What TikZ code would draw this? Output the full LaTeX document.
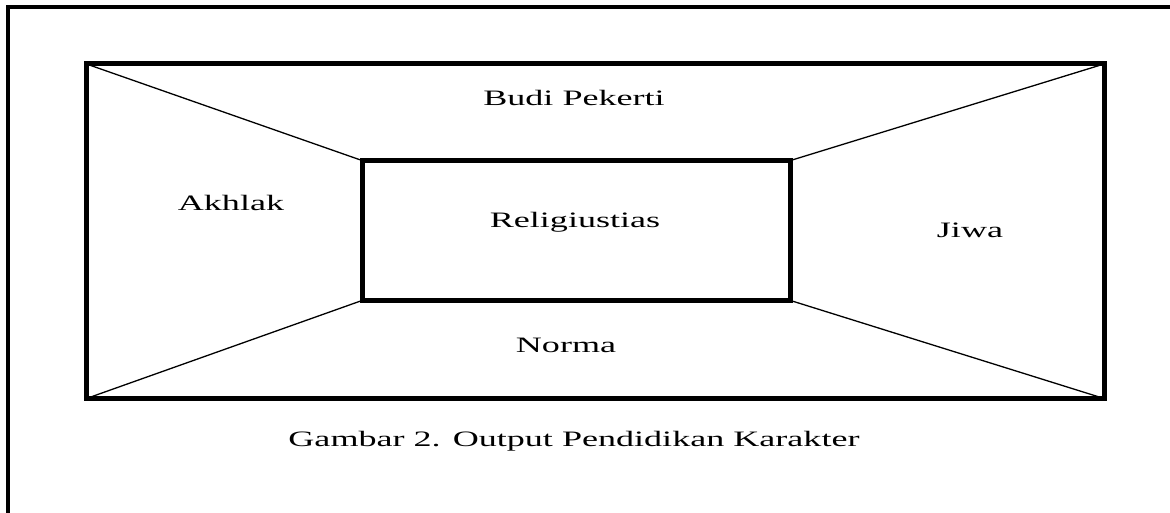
\documentclass[tikz,border=0pt]{standalone}
\usepackage{fontspec}
\setmainfont{Liberation Serif}
\newcommand{\wide}[1]{\scalebox{1.64}[1]{#1}}
\begin{document}
\begin{tikzpicture}[x=1pt,y=-1pt,
  thickline/.style={line width=5pt},
  diag/.style={line width=1.3pt},
  lbl/.style={anchor=base,inner sep=0pt,font=\fontsize{22}{26}\selectfont},
  framel/.style={line width=4pt}]
\useasboundingbox (0,0) rectangle (1170,513);
% outer page frame (left and top)
\coordinate (fa) at (8,513);
\coordinate (fb) at (8,7);
\coordinate (fc) at (1170,7);
\draw[framel] (fa) -- (fb) -- (fc);
% outer rectangle corners
\coordinate (otl) at (86.5,64);
\coordinate (otr) at (1104,64);
\coordinate (obr) at (1104,398.5);
\coordinate (obl) at (86.5,398.5);
% inner rectangle corners
\coordinate (itl) at (362,160.5);
\coordinate (itr) at (790.5,160.5);
\coordinate (ibr) at (790.5,300.5);
\coordinate (ibl) at (362,300.5);
% diagonals
\draw[diag] (otl) -- (itl);
\draw[diag] (otr) -- (itr);
\draw[diag] (obr) -- (ibr);
\draw[diag] (obl) -- (ibl);
% rectangles
\draw[thickline] (otl) -- (otr) -- (obr) -- (obl) -- cycle;
\draw[thickline] (itl) -- (itr) -- (ibr) -- (ibl) -- cycle;
% labels
\node[lbl] (budi) at (574,106) {\wide{Budi Pekerti}};
\node[lbl] (akhlak) at (231,211) {\wide{Akhlak}};
\node[lbl] (rel) at (575,228) {\wide{Religiustias}};
\node[lbl] (jiwa) at (970,238) {\wide{Jiwa}};
\node[lbl] (norma) at (566,352) {\wide{Norma}};
\node[lbl] (cap) at (574,446) {\wide{Gambar 2. Output Pendidikan Karakter}};
\end{tikzpicture}
\end{document}
